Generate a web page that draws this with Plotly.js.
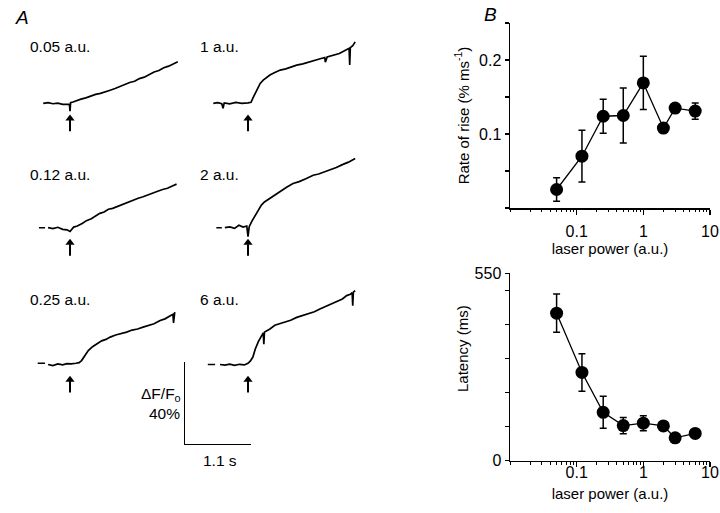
<!DOCTYPE html>
<html><head><meta charset="utf-8">
<script src="https://cdn.plot.ly/plotly-3.0.1.min.js"></script>
<style>html,body{margin:0;padding:0;background:#fff}#chart{width:720px;height:513px}</style>
</head><body><div id="chart"></div>
<script>
// ---------- Panel B data ----------
const laserPower = [0.05, 0.12, 0.25, 0.5, 1, 2, 3, 6];
const riseRate = [0.025, 0.070, 0.124, 0.125, 0.169, 0.108, 0.135, 0.131];
const riseRateErr = [0.016, 0.035, 0.023, 0.037, 0.036, 0.006, 0.006, 0.011];
const latency = [433, 259, 142, 103, 110, 102, 67, 80];
const latencyErr = [56, 55, 47, 24, 22, 10, 10, 10];
const xTickVals = [0.1, 1, 10];
const xTickText = ['0.1', '1', '10'];
const rateTickVals = [0.1, 0.2];
const rateTickText = ['0.1', '0.2'];
const latTickVals = [0, 550];
const latTickText = ['0', '550'];

// ---------- Panel A data (time in s from stimulus, dF/F0 in %) ----------
const traceLabels = ['0.05 a.u.', '1 a.u.', '0.12 a.u.', '2 a.u.', '0.25 a.u.', '6 a.u.'];
const t005 = [-0.44,-0.36,-0.28,-0.2,-0.12,-0.05,-0.01,0,0.01,0.05,0.1,0.18,0.26,0.34,0.42,0.5,0.58,0.66,0.74,0.82,0.9,0.98,1.06,1.14,1.22,1.3,1.38,1.46,1.54,1.62,1.7,1.77];
const f005 = [0,0.3,-0.2,0.1,-0.5,-0.3,-0.4,-3.8,0.3,0.6,1.2,2.0,2.6,3.5,4.3,4.8,5.7,6.3,7.1,8.1,8.8,10.0,10.6,11.9,12.6,13.9,15.1,15.8,17.1,17.9,19.1,20.0];
const t1 = [-0.57,-0.5,-0.43,-0.41,-0.39,-0.3,-0.2,-0.1,0,0.05,0.08,0.12,0.16,0.2,0.25,0.3,0.36,0.44,0.53,0.62,0.71,0.8,0.9,1.0,1.1,1.2,1.26,1.27,1.3,1.4,1.5,1.6,1.66,1.67,1.68,1.72,1.76];
const f1 = [0,0.3,-0.2,-2.4,0.2,-0.3,0.4,0,0.2,0.5,2.5,5.0,7.5,9.6,11.2,12.5,13.6,14.8,16.0,16.6,17.6,18.4,19.0,19.9,21.0,21.6,22.0,19.8,22.3,23.0,24.0,25.6,26.5,18.5,26.8,27.8,29.6];
const t012 = [-0.36,-0.28,-0.2,-0.12,-0.05,0,0.06,0.12,0.2,0.27,0.35,0.42,0.49,0.56,0.63,0.7,0.77,0.84,0.91,0.98,1.04,1.12,1.2,1.28,1.36,1.44,1.52,1.6,1.68,1.75];
const f012 = [0,-0.4,0.2,-0.8,-1.0,-1.8,0.3,0.8,2.0,3.4,4.3,5.8,6.9,7.6,8.9,9.3,10.1,11.2,11.8,12.7,13.3,14.2,14.9,15.9,16.6,17.6,18.4,19.0,20.1,21.0];
const t2 = [-0.38,-0.3,-0.22,-0.15,-0.08,-0.02,0,0.02,0.06,0.1,0.14,0.18,0.22,0.27,0.33,0.4,0.47,0.55,0.64,0.74,0.84,0.95,1.07,1.16,1.26,1.35,1.45,1.55,1.65,1.76];
const f2 = [0,0.4,-0.3,1.2,0.3,0.8,-4.3,0.5,2.9,5.0,6.9,9.0,10.9,12.4,13.6,15.2,16.5,18.0,19.6,21.3,22.2,23.6,25.3,25.9,27.0,27.8,29.0,30.4,31.6,33.4];
const t025 = [-0.36,-0.28,-0.2,-0.12,-0.05,0.02,0.1,0.15,0.19,0.24,0.3,0.37,0.44,0.52,0.59,0.66,0.75,0.84,0.93,1.02,1.11,1.2,1.29,1.38,1.48,1.56,1.64,1.69,1.7,1.71,1.72];
const f025 = [0,-0.5,0.3,-0.2,0.4,0.3,0.6,0.9,1.9,4.2,6.7,8.6,10.0,11.4,12.1,13.2,14.2,14.8,15.6,16.6,17.1,18.0,18.9,19.6,21.2,22.0,23.4,24.2,20.0,24.4,25.2];
const t6 = [-0.46,-0.38,-0.3,-0.22,-0.14,-0.06,0,0.04,0.08,0.12,0.17,0.22,0.25,0.26,0.27,0.31,0.36,0.44,0.52,0.6,0.7,0.8,0.9,1.0,1.09,1.18,1.28,1.38,1.47,1.55,1.62,1.68,1.71,1.72,1.73,1.76];
const f6 = [0,-0.3,0.2,-0.4,0.1,-0.2,0.6,1.7,3.6,7.5,11.0,13.4,15.2,9.8,15.6,16.3,17.1,18.9,19.6,20.4,21.3,22.7,23.6,24.5,25.4,26.7,28.0,29.1,30.5,31.6,33.2,33.8,34.6,28.3,34.9,35.6];
// short baseline marks drawn left of some traces
const dashT012 = [-0.51,-0.41], dashF012 = [0,0];
const dashT2 = [-0.52,-0.43], dashF2 = [0,0];
const dashT025 = [-0.53,-0.41], dashF025 = [0.6,0.6];
const dashT6 = [-0.66,-0.54], dashF6 = [0,0];
// stimulus arrows (at t = 0, below the baseline)
const stimT = [0, 0];
const arrowShaftF = [-13.5, -8];
const arrowHeadT = [0];
const arrowHeadF = [-7.3];
// calibration bars: 1.1 s and 40 % dF/F0
const scaleT = [0, 0, 1.1];
const scaleF = [40, 0, 0];

// ---------- layout helpers (pixel -> paper) ----------
const W = 720, H = 513;
const FONT = 'Liberation Sans, Arial, Helvetica, sans-serif';
const pxX = p => p / W;
const pxY = p => 1 - p / H;
const PX_PER_S = 60.9, PX_PER_PCT = 2.075;
const T_RANGE = [-0.75, 1.85], F_RANGE = [-15, 38];
function xDom(x0) { return [pxX(x0 + T_RANGE[0]*PX_PER_S), pxX(x0 + T_RANGE[1]*PX_PER_S)]; }
function yDom(base) { return [pxY(base - F_RANGE[0]*PX_PER_PCT), pxY(base - F_RANGE[1]*PX_PER_PCT)]; }

const cols = [70, 248];
const rows = [103.3, 227.7, 364.5];
const labelY = [47, 175, 299];
const labelX = [28, 198];

const traceSets = [
  {t:t005, f:f005}, {t:t1, f:f1},
  {t:t012, f:f012, dt:dashT012, df:dashF012}, {t:t2, f:f2, dt:dashT2, df:dashF2},
  {t:t025, f:f025, dt:dashT025, df:dashF025}, {t:t6, f:f6, dt:dashT6, df:dashF6}
];

const data = [];
const layout = {
  width: W, height: H, margin: {l:0, r:0, t:0, b:0},
  paper_bgcolor: '#fff', plot_bgcolor: 'rgba(0,0,0,0)',
  showlegend: false, font: {family: FONT, color: '#000'},
  annotations: []
};

// Panel A subplots (axes 3..8)
traceSets.forEach((s, i) => {
  const n = i + 3;
  const r = Math.floor(i / 2), c = i % 2;
  const xa = 'x' + n, ya = 'y' + n;
  layout['xaxis' + n] = {domain: xDom(cols[c]), range: T_RANGE, visible: false, anchor: ya, fixedrange: true};
  layout['yaxis' + n] = {domain: yDom(rows[r]), range: F_RANGE, visible: false, anchor: xa, fixedrange: true};
  const common = {xaxis: xa, yaxis: ya, cliponaxis: false, hoverinfo: 'skip'};
  data.push(Object.assign({x: s.t, y: s.f, mode: 'lines', line: {color: '#000', width: 1.7}}, common));
  if (s.dt) data.push(Object.assign({x: s.dt, y: s.df, mode: 'lines', line: {color: '#000', width: 1.5}}, common));
  data.push(Object.assign({x: stimT, y: arrowShaftF, mode: 'lines', line: {color: '#000', width: 2}}, common));
  data.push(Object.assign({x: arrowHeadT, y: arrowHeadF, mode: 'markers', marker: {symbol: 'triangle-up', size: 8, color: '#000'}}, common));
  layout.annotations.push({xref: 'paper', yref: 'paper', x: pxX(labelX[c]), y: pxY(labelY[r]),
    xanchor: 'left', yanchor: 'middle', text: traceLabels[i], showarrow: false, font: {size: 15.5, color: '#000'}});
});

// Calibration bar subplot (axis 9)
layout.xaxis9 = {domain: [pxX(184), pxX(251)], range: [0, 1.1], visible: false, anchor: 'y9', fixedrange: true};
layout.yaxis9 = {domain: [pxY(445), pxY(362)], range: [0, 40], visible: false, anchor: 'x9', fixedrange: true};
data.push({x: scaleT, y: scaleF, xaxis: 'x9', yaxis: 'y9', mode: 'lines', line: {color: '#000', width: 2}, cliponaxis: false, hoverinfo: 'skip'});
layout.annotations.push(
  {xref: 'paper', yref: 'paper', x: pxX(183), y: pxY(394), xanchor: 'right', yanchor: 'middle', text: 'ΔF/F<sub>o</sub>', showarrow: false, font: {size: 15.5}},
  {xref: 'paper', yref: 'paper', x: pxX(182), y: pxY(413), xanchor: 'right', yanchor: 'middle', text: '40%', showarrow: false, font: {size: 15.5}},
  {xref: 'paper', yref: 'paper', x: pxX(220), y: pxY(460), xanchor: 'center', yanchor: 'middle', text: '1.1 s', showarrow: false, font: {size: 15.5}},
  {xref: 'paper', yref: 'paper', x: pxX(13), y: pxY(17), xanchor: 'left', yanchor: 'middle', text: '<i>A</i>', showarrow: false, font: {size: 19}},
  {xref: 'paper', yref: 'paper', x: pxX(482), y: pxY(14), xanchor: 'left', yanchor: 'middle', text: '<i>B</i>', showarrow: false, font: {size: 19}},
  {xref: 'paper', yref: 'paper', x: pxX(462), y: pxY(349), xanchor: 'center', yanchor: 'middle', textangle: -90, text: 'Latency (ms)', showarrow: false, font: {size: 15}}
);

// Panel B axes
const minorVals = [0.01];
[0.01, 0.1, 1].forEach(d => { for (let k = 2; k <= 9; k++) minorVals.push(+(d * k).toPrecision(3)); });
const axisLine = {showline: true, linecolor: '#000', linewidth: 1.5, showgrid: false, zeroline: false, fixedrange: true};
function logX(domain, anchor, lblStandoff, titleStandoff) {
  return Object.assign({
    type: 'log', range: [-2, 1], domain, anchor,
    ticks: 'outside', ticklen: 5, tickwidth: 1.5, tickcolor: '#000',
    tickmode: 'array', tickvals: xTickVals, ticktext: xTickText,
    tickfont: {size: 16, color: '#000'}, ticklabelstandoff: lblStandoff,
    title: {text: 'laser power (a.u.)', font: {size: 15, color: '#000'}, standoff: titleStandoff}
  }, axisLine);
}
function minorX(over, anchor) {
  return {type: 'log', range: [-2, 1], overlaying: over, anchor, showline: false, showgrid: false, zeroline: false,
    ticks: 'outside', ticklen: 3, tickwidth: 1, tickcolor: '#000', tickmode: 'array', tickvals: minorVals,
    showticklabels: false, fixedrange: true};
}
function minorY(over, anchor, range, vals) {
  return {range, overlaying: over, anchor, side: 'left', showline: false, showgrid: false, zeroline: false,
    ticks: 'outside', ticklen: 4, tickwidth: 1.5, tickcolor: '#000', tickmode: 'array', tickvals: vals,
    showticklabels: false, fixedrange: true};
}
layout.xaxis = logX([pxX(510), pxX(710)], 'y', 3, 2);
layout.yaxis = Object.assign({
  domain: [pxY(208), pxY(23)], range: [0, 0.25], anchor: 'x',
  ticks: 'outside', ticklen: 4, tickwidth: 1.5, tickcolor: '#000',
  tickmode: 'array', tickvals: rateTickVals, ticktext: rateTickText,
  tickfont: {size: 16, color: '#000'},
  title: {text: 'Rate of rise (% ms<sup>-1</sup>)', font: {size: 15, color: '#000'}, standoff: 6}
}, axisLine);
layout.xaxis2 = logX([pxX(510), pxX(710)], 'y2', -8, 8);
layout.yaxis2 = Object.assign({
  domain: [pxY(460.7), pxY(273.3)], range: [0, 550], anchor: 'x2',
  ticks: 'outside', ticklen: 4, tickwidth: 1.5, tickcolor: '#000',
  tickmode: 'array', tickvals: latTickVals, ticktext: latTickText,
  tickfont: {size: 16, color: '#000'}
}, axisLine);
// overlay axes that only carry the unlabelled (minor) ticks
layout.xaxis11 = minorX('x', 'y');
layout.yaxis11 = minorY('y', 'x', [0, 0.25], [0, 0.05, 0.15, 0.25]);
layout.xaxis12 = minorX('x2', 'y2');
layout.yaxis12 = minorY('y2', 'x2', [0, 550], [100, 200, 300, 400, 500]);
data.push({x: [], y: [], xaxis: 'x11', yaxis: 'y', mode: 'markers', hoverinfo: 'skip'});
data.push({x: [], y: [], xaxis: 'x', yaxis: 'y11', mode: 'markers', hoverinfo: 'skip'});
data.push({x: [], y: [], xaxis: 'x12', yaxis: 'y2', mode: 'markers', hoverinfo: 'skip'});
data.push({x: [], y: [], xaxis: 'x2', yaxis: 'y12', mode: 'markers', hoverinfo: 'skip'});

data.push({
  x: laserPower, y: riseRate, xaxis: 'x', yaxis: 'y', mode: 'lines+markers',
  line: {color: '#000', width: 1.3}, marker: {color: '#000', size: 13},
  error_y: {type: 'data', array: riseRateErr, visible: true, color: '#000', thickness: 1.5, width: 3.5},
  cliponaxis: false
});
data.push({
  x: laserPower, y: latency, xaxis: 'x2', yaxis: 'y2', mode: 'lines+markers',
  line: {color: '#000', width: 1.3}, marker: {color: '#000', size: 13},
  error_y: {type: 'data', array: latencyErr, visible: true, color: '#000', thickness: 1.5, width: 3.5},
  cliponaxis: false
});

Plotly.newPlot('chart', data, layout, {displayModeBar: false, staticPlot: true});
</script>
</body></html>
